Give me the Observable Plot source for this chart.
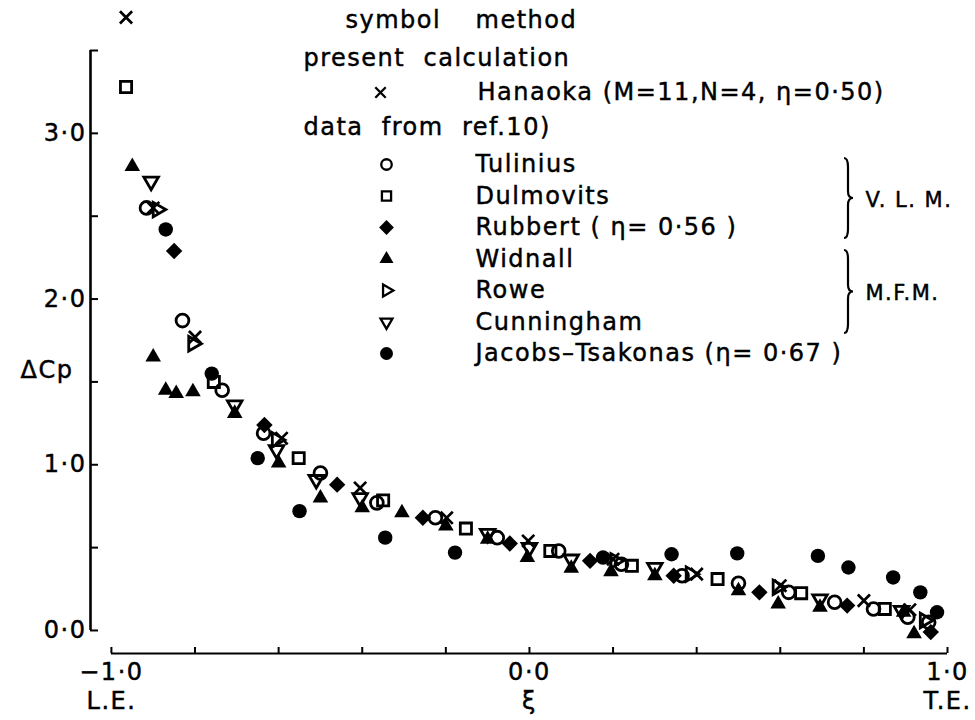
<!DOCTYPE html>
<html>
<head>
<meta charset="utf-8">
<script src="https://cdn.jsdelivr.net/npm/d3@7"></script>
<script src="https://cdn.jsdelivr.net/npm/@observablehq/plot@0.6"></script>
<style>
  body { margin: 0; background: #fff; }
  #chart { width: 975px; height: 720px; }
  #chart svg text { letter-spacing: 1.5px; stroke: black; stroke-width: 0.45px; }
</style>
</head>
<body>
<div id="chart"></div>
<script>
// ---- data: [ξ, ΔCp] ----
const hanaoka = [[-0.965,3.70],[-0.90,2.55],[-0.80,1.77],[-0.593,1.16],[-0.405,0.86],[-0.198,0.68],[-0.003,0.54],[0.20,0.43],[0.40,0.34],[0.60,0.27],[0.80,0.18],[0.91,0.125]];
const tulinius = [[-0.916,2.55],[-0.83,1.87],[-0.735,1.45],[-0.636,1.19],[-0.50,0.95],[-0.365,0.77],[-0.225,0.68],[-0.077,0.56],[0.07,0.48],[0.22,0.40],[0.365,0.33],[0.50,0.285],[0.62,0.23],[0.73,0.17],[0.823,0.13],[0.905,0.08],[0.955,0.05]];
const dulmovits = [[-0.965,3.28],[-0.755,1.50],[-0.552,1.04],[-0.35,0.785],[-0.152,0.615],[0.05,0.48],[0.245,0.39],[0.45,0.31],[0.65,0.225],[0.85,0.13]];
const rubbert = [[-0.85,2.29],[-0.634,1.24],[-0.46,0.88],[-0.255,0.68],[-0.047,0.525],[0.145,0.42],[0.345,0.33],[0.55,0.23],[0.76,0.15],[0.96,-0.01]];
const widnall = [[-0.95,2.80],[-0.90,1.65],[-0.87,1.45],[-0.845,1.43],[-0.805,1.44],[-0.705,1.31],[-0.60,1.01],[-0.50,0.80],[-0.40,0.74],[-0.305,0.71],[-0.20,0.63],[-0.10,0.55],[-0.005,0.44],[0.10,0.375],[0.195,0.355],[0.30,0.33],[0.50,0.24],[0.595,0.16],[0.695,0.14],[0.895,0.11],[0.92,-0.02]];
const rowe = [[-0.89,2.54],[-0.805,1.73],[-0.605,1.15],[0.205,0.42],[0.385,0.34],[0.593,0.26],[0.945,0.06]];
const cunningham = [[-0.905,2.71],[-0.705,1.36],[-0.605,1.09],[-0.51,0.91],[-0.405,0.80],[-0.10,0.585],[0.0,0.50],[0.10,0.43],[0.30,0.38],[0.695,0.19],[0.89,0.12]];
const jacobs = [[-0.87,2.42],[-0.76,1.55],[-0.65,1.04],[-0.55,0.72],[-0.345,0.56],[-0.178,0.47],[0.176,0.44],[0.34,0.46],[0.497,0.465],[0.69,0.45],[0.763,0.38],[0.87,0.32],[0.935,0.23],[0.975,0.11]];

// ---- ticks and labels ----
const xTicks = [-1,-0.8,-0.6,-0.4,-0.2,0,0.2,0.4,0.6,0.8,1];
const xLabelTicks = [-1, 0, 1];
const xLabels = ["\u22121\u00b70", "0\u00b70", "1\u00b70"];
const xEndLabels = ["L.E.", "\u03be", "T.E."];
const yTicks = [0,0.5,1,1.5,2,2.5,3,3.5];
const yLabelTicks = [0, 1, 2, 3];
const yLabels = ["0\u00b70", "1\u00b70", "2\u00b70", "3\u00b70"];
const xDomain = [-1.05, 1.0];
const yDomain = [-0.139, 3.5];

// custom triangle symbols
const s3 = Math.sqrt(3);
const triDown = {draw(c, size) { const y = -Math.sqrt(size / (s3 * 3)); c.moveTo(0, -2 * y); c.lineTo(-s3 * y, y); c.lineTo(s3 * y, y); c.closePath(); }};
const triRight = {draw(c, size) { const y = -Math.sqrt(size / (s3 * 3)); c.moveTo(-2 * y, 0); c.lineTo(y, -s3 * y); c.lineTo(y, s3 * y); c.closePath(); }};

const series = [
  {name: "Tulinius", data: tulinius, symbol: "circle", filled: false, r: 6.4},
  {name: "Dulmovits", data: dulmovits, symbol: "square", filled: false, r: 6.3},
  {name: "Rubbert ( \u03b7= 0\u00b756 )", data: rubbert, symbol: "diamond2", filled: true, r: 7.4},
  {name: "Widnall", data: widnall, symbol: "triangle", filled: true, r: 5.8},
  {name: "Rowe", data: rowe, symbol: triRight, filled: false, r: 5.4},
  {name: "Cunningham", data: cunningham, symbol: triDown, filled: false, r: 5.4},
  {name: "Jacobs\u2013Tsakonas (\u03b7= 0\u00b767 )", data: jacobs, symbol: "circle", filled: true, r: 7.2}
];

const M = {top: 50, right: 28, bottom: 67, left: 90};
const FONT = "DejaVu Sans";

function style(s, legend) {
  return s.filled
    ? {symbol: s.symbol, r: legend ? s.r * 0.9 : s.r, fill: "black", stroke: "none"}
    : {symbol: s.symbol, r: legend ? s.r * 0.82 : s.r, fill: "none", stroke: "black", strokeWidth: legend ? 2.3 : 2.8};
}

// legend helpers (positions in page pixels)
const at = (X, Y) => ({x: null, y: null, frameAnchor: "top-left", dx: X - M.left, dy: Y - M.top});
const ltext = (t, X, Y, extra = {}) => Plot.text([t], {...at(X, Y), textAnchor: "start", lineAnchor: "middle", fontSize: 24, fill: "black", ...extra});

const rowY = [164, 195.5, 227, 258.5, 290, 321.5, 353];

function brace(X, Y0, Y1) {
  return () => {
    const ym = (Y0 + Y1) / 2;
    const d = `M${X - 4},${Y0} Q${X},${Y0} ${X},${Y0 + 9} L${X},${ym - 7} Q${X},${ym} ${X + 5},${ym} Q${X},${ym} ${X},${ym + 7} L${X},${Y1 - 9} Q${X},${Y1} ${X - 4},${Y1}`;
    const p = document.createElementNS("http://www.w3.org/2000/svg", "path");
    p.setAttribute("d", d);
    p.setAttribute("fill", "none");
    p.setAttribute("stroke", "black");
    p.setAttribute("stroke-width", "2.2");
    return p;
  };
}

const marks = [
  // axes
  Plot.ruleX([xDomain[0]], {y1: yTicks[0], y2: yTicks[yTicks.length - 1], strokeWidth: 2.6}),
  Plot.axisY(yTicks, {anchor: "left", tickSize: -8, fill: "none", strokeWidth: 2, label: null}),
  Plot.axisY(yLabelTicks, {anchor: "left", tickSize: 0, tickPadding: 4, tickFormat: d => yLabels[yLabelTicks.indexOf(d)], fontSize: 24, label: null}),
  Plot.ruleY([yDomain[0]], {x1: xTicks[0], x2: xTicks[xTicks.length - 1], strokeWidth: 2}),
  Plot.axisX(xTicks, {anchor: "bottom", tickSize: -6, fill: "none", strokeWidth: 2, label: null}),
  Plot.axisX(xLabelTicks, {anchor: "bottom", tickSize: 0, tickPadding: 9, tickFormat: d => xLabels[xLabelTicks.indexOf(d)], fontSize: 24, label: null}),
  Plot.axisX(xLabelTicks, {anchor: "bottom", tickSize: 0, tickPadding: 38, tickFormat: d => xEndLabels[xLabelTicks.indexOf(d)], fontSize: 24, label: null}),
  Plot.text(["\u0394Cp"], {...at(20, 370), textAnchor: "start", lineAnchor: "middle", fontSize: 24, fill: "black"}),
  // data
  ...series.map(s => Plot.dot(s.data, {x: d => d[0], y: d => d[1], ...style(s, false), clip: false})),
  Plot.dot(hanaoka, {x: d => d[0], y: d => d[1], symbol: "times", r: 5.6, stroke: "black", strokeWidth: 2.7, clip: false}),
  // legend
  ltext("symbol", 345, 20),
  ltext("method", 475, 20),
  ltext("present  calculation", 303, 58),
  Plot.dot([0], {...at(380, 92), symbol: "times", r: 4.8, stroke: "black", strokeWidth: 2.3}),
  ltext("Hanaoka (M=11,N=4, \u03b7=0\u00b750)", 477, 92),
  ltext("data  from  ref.10)", 303, 127),
  ...series.flatMap((s, i) => [
    Plot.dot([0], {...at(386, rowY[i]), ...style(s, true)}),
    ltext(s.name, 475, rowY[i])
  ]),
  brace(848, 158, 238),
  brace(848, 250, 333),
  ltext("V. L. M.", 865, 200, {fontSize: 21}),
  ltext("M.F.M.", 865, 293, {fontSize: 21})
];

const chart = Plot.plot({
  width: 975,
  height: 720,
  marginTop: M.top,
  marginRight: M.right,
  marginBottom: M.bottom,
  marginLeft: M.left,
  x: {domain: xDomain},
  y: {domain: yDomain},
  style: {fontFamily: FONT, fontSize: "24px", color: "black", background: "white", overflow: "visible"},
  marks
});
document.getElementById("chart").append(chart);
</script>
</body>
</html>
